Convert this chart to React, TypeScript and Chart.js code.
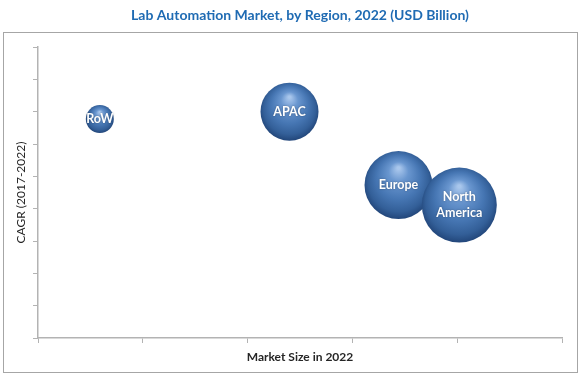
import React, { useEffect, useRef } from "react";
import { Chart, registerables } from "chart.js";

Chart.register(...registerables);

const titleText = "Lab Automation Market, by Region, 2022 (USD Billion)";
const xAxisTitle = "Market Size in 2022";
const yAxisTitle = "CAGR (2017-2022)";

const regions = ["RoW", "APAC", "Europe", "North America"];
const marketSize = [0.59, 2.4, 3.44, 4.02];
const cagr = [6.77, 7.0, 4.73, 4.11];
const bubbleRadius = [14, 29, 34, 37.5];

const xMin = 0;
const xMax = 5;
const yMin = 0;
const yMax = 9;

const framePlugin = {
  id: "frame",
  beforeDraw(chart: any) {
    const c = chart.ctx;
    c.save();
    c.fillStyle = "#ffffff";
    c.fillRect(0, 0, chart.width, chart.height);
    c.strokeStyle = "#a6a6a6";
    c.lineWidth = 1;
    c.strokeRect(3.5, 32.5, chart.width - 10, chart.height - 41);
    c.restore();
  },
};

const labelPlugin = {
  id: "bubbleLabels",
  afterDatasetsDraw(chart: any) {
    const c = chart.ctx;
    const meta = chart.getDatasetMeta(0);
    c.save();
    c.fillStyle = "#ffffff";
    c.font = "bold 12.5px Lato";
    c.textAlign = "center";
    c.textBaseline = "middle";
    c.shadowColor = "rgba(0,0,0,0.35)";
    c.shadowBlur = 2;
    meta.data.forEach((el: any, i: number) => {
      const lines = regions[i] === "North America" ? regions[i].split(" ") : [regions[i]];
      const lh = 16.5;
      const start = el.y - ((lines.length - 1) * lh) / 2;
      lines.forEach((ln: string, k: number) => {
        c.fillText(ln, el.x, start + k * lh);
      });
    });
    c.restore();
  },
};

function sphereFill(ctx: any) {
  const chart = ctx.chart;
  const xs = chart.scales?.x;
  const ys = chart.scales?.y;
  if (ctx.type !== "data" || !xs || !ys || !ctx.raw) return "#4373b0";
  const raw = ctx.raw;
  const cx = xs.getPixelForValue(raw.x);
  const cy = ys.getPixelForValue(raw.y);
  const r = raw.r;
  if (!isFinite(cx) || !isFinite(cy) || !isFinite(r)) return "#4373b0";
  const g = chart.ctx.createRadialGradient(cx, cy - r * 0.5, r * 0.04, cx, cy - r * 0.05, r * 1.05);
  g.addColorStop(0, "#a8c6ec");
  g.addColorStop(0.25, "#6996cf");
  g.addColorStop(0.6, "#4676b3");
  g.addColorStop(0.85, "#335f98");
  g.addColorStop(1, "#22467a");
  return g;
}

export default function App() {
  const ref = useRef<HTMLCanvasElement | null>(null);

  useEffect(() => {
    document.body.style.margin = "0";
    const canvas = ref.current;
    if (!canvas) return;
    const chart = new Chart(canvas, {
      type: "bubble",
      data: {
        datasets: [
          {
            label: "Regions",
            data: regions.map((_, i) => ({ x: marketSize[i], y: cagr[i], r: bubbleRadius[i] })),
            backgroundColor: sphereFill as any,
            borderWidth: 0,
            clip: false as any,
          },
        ],
      },
      options: {
        animation: false,
        responsive: false,
        devicePixelRatio: 1,
        layout: { autoPadding: false, padding: { left: 0, right: 22, top: 0, bottom: 0 } },
        plugins: {
          legend: { display: false },
          tooltip: { enabled: false },
          title: {
            display: true,
            text: titleText,
            fullSize: false,
            color: "#1f6bb3",
            font: { family: "Lato", size: 14, weight: "bold" },
            padding: { top: 7, bottom: 23.2 },
          },
        },
        scales: {
          x: {
            type: "linear",
            min: xMin,
            max: xMax,
            ticks: { display: false, stepSize: 1 },
            grid: { drawOnChartArea: false, drawTicks: true, tickLength: 5, color: "#b3b3b3", lineWidth: 1 },
            border: { color: "#b3b3b3", width: 1.5 },
            title: {
              display: true,
              text: xAxisTitle,
              color: "#262626",
              font: { family: "Lato", size: 12, weight: "bold" },
              padding: { top: 7.3, bottom: 16.3 },
            },
          },
          y: {
            type: "linear",
            min: yMin,
            max: yMax,
            ticks: { display: false, stepSize: 1 },
            grid: { drawOnChartArea: false, drawTicks: true, tickLength: 5, color: "#b3b3b3", lineWidth: 1 },
            border: { color: "#b3b3b3", width: 1.5 },
            title: {
              display: true,
              text: yAxisTitle,
              color: "#262626",
              font: { family: "Lato", size: 12, weight: "normal" },
              padding: { top: 14.3, bottom: 4.3 },
            },
          },
        },
      },
      plugins: [framePlugin, labelPlugin],
    });
    return () => chart.destroy();
  }, []);

  return (
    <div style={{ width: 584, height: 381 }}>
      <canvas ref={ref} width={584} height={381} style={{ width: 584, height: 381, display: "block" }} />
    </div>
  );
}
